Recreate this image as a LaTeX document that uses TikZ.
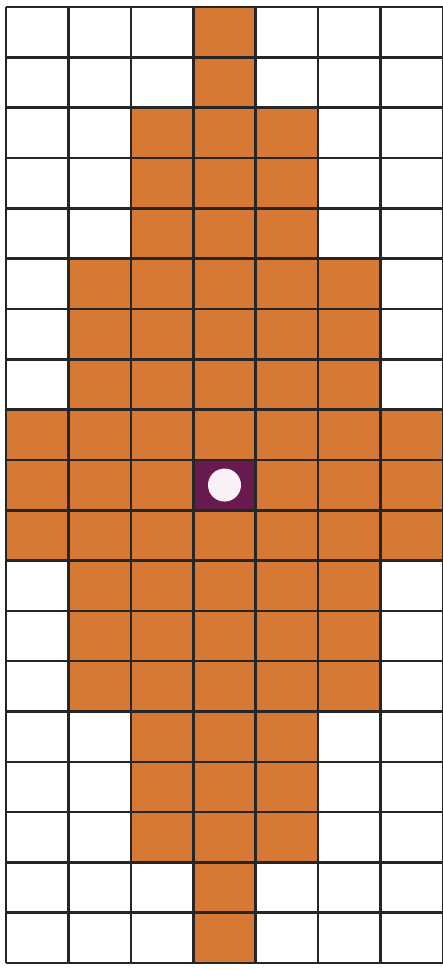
\documentclass[tikz,border=0pt]{standalone}
\definecolor{cellorange}{RGB}{214,121,52}
\definecolor{cellpurple}{RGB}{104,26,78}
\definecolor{dotwhite}{RGB}{250,242,246}
\tikzset{
  filled/.style={fill=cellorange, draw=none},
  gridline/.style={line width=2.6pt, draw=black!85},
}
\begin{document}
\begin{tikzpicture}[x=1pt,y=-1pt]
\useasboundingbox (0,0) rectangle (443,970);
\fill[white] (0,0) rectangle (443,970);
\def\cw{62.43}
\def\rh{50.32}
\def\xo{6}
\def\yo{7}
% row : first col : last col
\foreach \r/\a/\b in {0/3/3,1/3/3,2/2/4,3/2/4,4/2/4,5/1/5,6/1/5,7/1/5,8/0/6,9/0/6,10/0/6,11/1/5,12/1/5,13/1/5,14/2/4,15/2/4,16/2/4,17/3/3,18/3/3}{
  \fill[cellorange] ({\xo+\a*\cw},{\yo+\r*\rh}) rectangle ({\xo+(\b+1)*\cw},{\yo+(\r+1)*\rh});
}
\fill[cellpurple] ({\xo+3*\cw},{\yo+9*\rh}) rectangle ({\xo+4*\cw},{\yo+10*\rh});
\fill[dotwhite] ({\xo+3.5*\cw},{\yo+9.5*\rh}) circle (16.5);
\foreach \i in {0,...,7}{
  \draw[gridline] ({\xo+\i*\cw},{\yo}) -- ({\xo+\i*\cw},{\yo+19*\rh});
}
\foreach \j in {0,...,19}{
  \draw[gridline] ({\xo},{\yo+\j*\rh}) -- ({\xo+7*\cw},{\yo+\j*\rh});
}
\end{tikzpicture}
\end{document}
